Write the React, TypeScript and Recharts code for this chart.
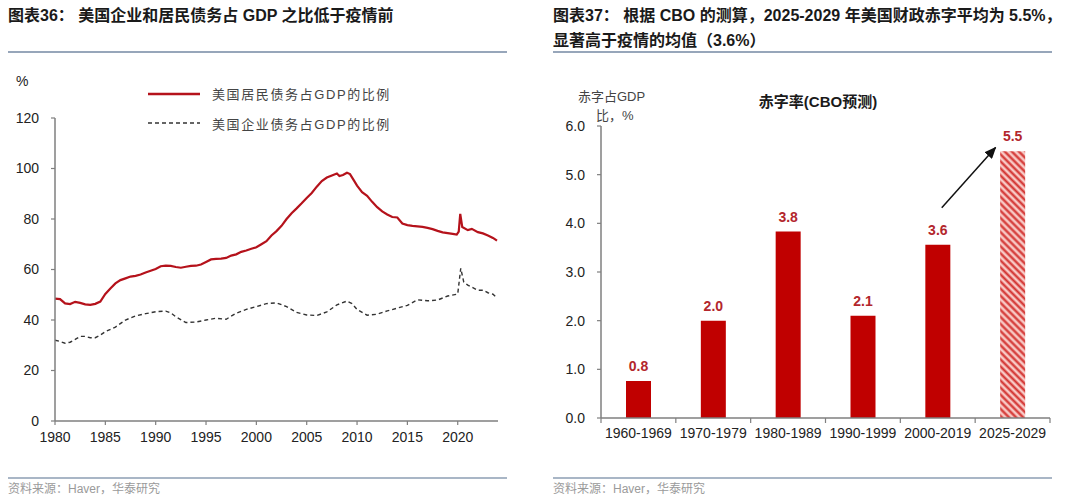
import React from "react";
import {
  Bar,
  BarChart,
  Cell,
  LabelList,
  Legend,
  Line,
  LineChart,
  ReferenceLine,
  XAxis,
  YAxis,
} from "recharts";

// left panel: debt as % of GDP
const householdYears = [
  1980, 1980.5, 1981, 1981.5, 1982, 1982.5, 1983, 1983.5, 1984, 1984.5, 1985, 1985.5, 1986, 1986.5,
  1987, 1987.5, 1988, 1988.5, 1989, 1989.5, 1990, 1990.5, 1991, 1991.5, 1992, 1992.5, 1993, 1993.5,
  1994, 1994.5, 1995, 1995.5, 1996, 1996.5, 1997, 1997.5, 1998, 1998.5, 1999, 1999.5, 2000, 2000.5,
  2001, 2001.5, 2002, 2002.5, 2003, 2003.5, 2004, 2004.5, 2005, 2005.5, 2006, 2006.5, 2007, 2007.5,
  2008, 2008.25, 2008.6, 2009, 2009.3, 2009.7, 2010, 2010.5, 2011, 2011.5, 2012, 2012.5, 2013, 2013.5,
  2014, 2014.5, 2015, 2015.5, 2016, 2016.5, 2017, 2017.5, 2018, 2018.5, 2019, 2019.5, 2019.9, 2020.1,
  2020.25, 2020.45, 2021, 2021.4, 2022, 2022.5, 2023, 2023.5, 2023.9,
];
const householdShare = [
  48.5, 48.3, 46.6, 46.3, 47.2, 46.8, 46.2, 46.0, 46.4, 47.3, 50.3, 52.5, 54.5, 55.8,
  56.5, 57.2, 57.5, 58.0, 58.8, 59.5, 60.2, 61.3, 61.5, 61.4, 61.0, 60.7, 61.1, 61.4,
  61.5, 62.0, 63.0, 64.0, 64.2, 64.3, 64.6, 65.5, 66.0, 67.0, 67.5, 68.2, 68.8, 70.0,
  71.2, 73.5, 75.2, 77.3, 80.0, 82.3, 84.2, 86.2, 88.3, 90.3, 92.8, 95.0, 96.4, 97.2,
  98.0, 97.0, 97.4, 98.3, 97.8, 95.2, 93.2, 90.6, 89.2, 86.8, 84.7, 83.0, 81.8, 80.8,
  80.6, 78.2, 77.6, 77.3, 77.1, 76.9, 76.5, 76.0, 75.3, 74.7, 74.4, 74.1, 73.8, 75.0,
  82.0, 76.8, 75.6, 76.1, 74.8, 74.3, 73.5, 72.5, 71.4,
];

const corporateYears = [
  1980, 1980.5, 1981, 1981.5, 1982, 1982.5, 1983, 1983.5, 1984, 1984.5, 1985, 1986, 1987, 1988,
  1989, 1990, 1991, 1991.5, 1992, 1993, 1994, 1995, 1996, 1997, 1998, 1999, 2000, 2001, 2002,
  2003, 2004, 2005, 2006, 2007, 2008, 2009, 2009.5, 2010, 2011, 2012, 2013, 2014, 2015, 2016,
  2017, 2018, 2019, 2020, 2020.3, 2020.6, 2021, 2021.5, 2022, 2022.5, 2023, 2023.5, 2023.9,
];
const corporateShare = [
  32.0, 31.5, 30.8, 31.2, 32.3, 33.5, 33.5, 33.0, 33.0, 34.0, 35.4, 37.2, 40.0, 41.6,
  42.5, 43.3, 43.5, 42.8, 41.3, 39.0, 39.2, 40.0, 40.7, 40.3, 42.7, 44.2, 45.3, 46.5, 46.8,
  45.3, 43.0, 42.0, 41.8, 43.2, 46.0, 47.5, 46.5, 44.2, 41.9, 42.3, 43.6, 44.7, 45.8, 48.0,
  47.6, 47.9, 49.5, 50.3, 60.5, 55.0, 53.8, 52.8, 51.8, 51.8, 50.8, 50.2, 48.8,
];

const yearTicks = [1980, 1985, 1990, 1995, 2000, 2005, 2010, 2015, 2020];
const shareTicks = [0, 20, 40, 60, 80, 100, 120];

// right panel: average deficit by period
const periods = ["1960-1969", "1970-1979", "1980-1989", "1990-1999", "2000-2019", "2025-2029"];
const deficitAvg = [0.76, 2.0, 3.83, 2.1, 3.56, 5.48];
const deficitTicks = [0, 1, 2, 3, 4, 5, 6];

const SANS = '"Liberation Sans", Arial, "Noto Sans CJK SC", sans-serif';
const AXIS = "#7f7f7f";
const RED = "#c00000";

const household = householdYears.map((year, i) => ({ year, value: householdShare[i] }));
const corporate = corporateYears.map((year, i) => ({ year, value: corporateShare[i] }));
const deficits = periods.map((period, i) => ({ period, value: deficitAvg[i] }));

function DebtLegend({ payload }: any) {
  const items = [...(payload || [])].sort(
    (a: any, b: any) => Number(!!a.payload?.strokeDasharray) - Number(!!b.payload?.strokeDasharray)
  );
  return (
    <div style={{ fontFamily: SANS }}>
      {items.map((entry: any) => {
        const dashed = !!entry.payload?.strokeDasharray;
        return (
          <div key={entry.value} style={{ display: "flex", alignItems: "center", height: 29.5 }}>
            <svg width={52} height={6} style={{ marginRight: 12 }}>
              <line
                x1={0}
                y1={3}
                x2={52}
                y2={3}
                stroke={entry.color}
                strokeWidth={dashed ? 1.3 : 2.4}
                strokeDasharray={dashed ? "4 3" : undefined}
              />
            </svg>
            <span style={{ fontSize: 13, color: "#444", letterSpacing: 1.6 }}>{entry.value}</span>
          </div>
        );
      })}
    </div>
  );
}

const TICK_SIZE = 5;
const TICK_MARGIN = 5;

function PeriodTick({ x, y, payload, index }: any) {
  const half = payload?.offset || 449 / 12;
  const top = y - TICK_SIZE - TICK_MARGIN;
  return (
    <g>
      <line x1={x - half} y1={top} x2={x - half} y2={top + TICK_SIZE} stroke={AXIS} strokeWidth={1.2} />
      {index === periods.length - 1 && (
        <line x1={x + half} y1={top} x2={x + half} y2={top + TICK_SIZE} stroke={AXIS} strokeWidth={1.2} />
      )}
      <text x={x} y={y} dy="0.71em" textAnchor="middle" fontSize={14} fontFamily={SANS} fill="#222">
        {payload.value}
      </text>
    </g>
  );
}

function Arrow({ x1, y1, x2, y2 }: any) {
  return (
    <line
      x1={x1 + 4}
      y1={y1}
      x2={x2 - 17}
      y2={y2}
      stroke="#111"
      strokeWidth={1.5}
      markerEnd="url(#arrowHead)"
    />
  );
}

const text = (extra: React.CSSProperties): React.CSSProperties => ({
  position: "absolute",
  fontFamily: SANS,
  lineHeight: 1,
  whiteSpace: "nowrap",
  ...extra,
});

export default function App() {
  return (
    <div style={{ position: "absolute", left: 0, top: 0, width: 1080, height: 503, background: "#fff", overflow: "hidden" }}>
      {/* headers */}
      <div style={text({ left: 8, top: 8, fontSize: 16, fontWeight: 700, color: "#1a1a1a" })}>
        图表36：&nbsp;美国企业和居民债务占 GDP 之比低于疫情前
      </div>
      <div style={text({ left: 553, top: 3, fontSize: 16, fontWeight: 700, color: "#1a1a1a", lineHeight: "25px" })}>
        图表37：&nbsp;根据 CBO 的测算，2025-2029 年美国财政赤字平均为 5.5%，
        <br />
        显著高于疫情的均值（3.6%）
      </div>
      <div style={{ position: "absolute", left: 8, top: 51, width: 499, height: 1.5, background: "#97a6ba" }} />
      <div style={{ position: "absolute", left: 553, top: 51, width: 499, height: 1.5, background: "#97a6ba" }} />

      {/* left chart */}
      <div style={text({ left: 16, top: 74, fontSize: 14, color: "#222" })}>%</div>
      <div style={{ position: "absolute", left: 0, top: 0 }}>
        <LineChart width={540} height={460} margin={{ top: 118, right: 42, bottom: 9, left: 10 }}>
          <XAxis
            type="number"
            dataKey="year"
            domain={[1980, 2024]}
            ticks={yearTicks}
            allowDataOverflow
            height={30}
            axisLine={{ stroke: AXIS, strokeWidth: 1.5 }}
            tickLine={{ stroke: AXIS, strokeWidth: 1.2 }}
            tickSize={4}
            tickMargin={7}
            tick={{ fill: "#222", fontSize: 14, fontFamily: SANS }}
          />
          <YAxis
            type="number"
            domain={[0, 120]}
            ticks={shareTicks}
            width={45}
            axisLine={{ stroke: AXIS, strokeWidth: 1.5 }}
            tickLine={{ stroke: AXIS, strokeWidth: 1.2 }}
            tickSize={4}
            tickMargin={12}
            tick={{ fill: "#222", fontSize: 14, fontFamily: SANS }}
          />
          <Legend
            layout="vertical"
            align="center"
            verticalAlign="middle"
            content={<DebtLegend />}
            wrapperStyle={{ top: 79, left: 148, width: "auto", height: "auto" }}
          />
          <Line
            data={household}
            dataKey="value"
            name="美国居民债务占GDP的比例"
            stroke="#b5121b"
            strokeWidth={2.2}
            dot={false}
            isAnimationActive={false}
          />
          <Line
            data={corporate}
            dataKey="value"
            name="美国企业债务占GDP的比例"
            stroke="#333"
            strokeWidth={1.4}
            strokeDasharray="4 3"
            dot={false}
            isAnimationActive={false}
          />
        </LineChart>
      </div>

      {/* right chart */}
      <div style={text({ left: 818, top: 94, fontSize: 15, fontWeight: 700, color: "#1a1a1a", transform: "translateX(-50%)" })}>
        赤字率(CBO预测)
      </div>
      <div style={text({ left: 578, top: 90, fontSize: 13, color: "#444" })}>赤字占GDP</div>
      <div style={text({ left: 596, top: 109, fontSize: 13, color: "#444" })}>比，%</div>
      <div style={{ position: "absolute", left: 540, top: 0 }}>
        <BarChart
          width={540}
          height={460}
          data={deficits}
          barSize={25}
          margin={{ top: 126, right: 30, bottom: 12, left: 21 }}
        >
          <defs>
            <pattern id="hatch" patternUnits="userSpaceOnUse" width={5} height={5} patternTransform="rotate(-45)">
              <rect width={5} height={5} fill="#f8c9c5" />
              <line x1={1.5} y1={0} x2={1.5} y2={5} stroke="#d2302e" strokeWidth={2.2} />
            </pattern>
            <marker
              id="arrowHead"
              markerWidth={12}
              markerHeight={10}
              refX={11}
              refY={5}
              orient="auto"
              markerUnits="userSpaceOnUse"
            >
              <path d="M0,0 L12,5 L0,10 z" fill="#111" />
            </marker>
          </defs>
          <XAxis
            dataKey="period"
            type="category"
            height={30}
            axisLine={{ stroke: AXIS, strokeWidth: 1.5 }}
            tickLine={false}
            tickSize={TICK_SIZE}
            tickMargin={TICK_MARGIN}
            interval={0}
            tick={<PeriodTick />}
          />
          <YAxis
            type="number"
            domain={[0, 6]}
            ticks={deficitTicks}
            width={40}
            axisLine={{ stroke: AXIS, strokeWidth: 1.5 }}
            tickLine={{ stroke: AXIS, strokeWidth: 1.2 }}
            tickSize={4}
            tickMargin={12}
            tickFormatter={(v: number) => v.toFixed(1)}
            tick={{ fill: "#222", fontSize: 14, fontFamily: SANS }}
          />
          <Bar dataKey="value" isAnimationActive={false}>
            {deficits.map((d, i) => (
              <Cell key={d.period} fill={i === deficits.length - 1 ? "url(#hatch)" : RED} />
            ))}
            <LabelList
              dataKey="value"
              position="top"
              offset={10}
              formatter={(v: any) => Number(v).toFixed(1)}
              fill="#b3262c"
              fontSize={14}
              fontWeight={700}
              fontFamily={SANS}
            />
          </Bar>
          <ReferenceLine
            segment={[
              { x: "2000-2019", y: 4.32 },
              { x: "2025-2029", y: 5.56 },
            ]}
            ifOverflow="visible"
            shape={<Arrow />}
          />
        </BarChart>
      </div>

      {/* footers */}
      <div style={{ position: "absolute", left: 8, top: 477, width: 499, height: 1.5, background: "#a9b6c6" }} />
      <div style={{ position: "absolute", left: 553, top: 477, width: 499, height: 1.5, background: "#a9b6c6" }} />
      <div style={text({ left: 8, top: 483, fontSize: 12, color: "#9a9a9a" })}>资料来源：Haver，华泰研究</div>
      <div style={text({ left: 553, top: 483, fontSize: 12, color: "#9a9a9a" })}>资料来源：Haver，华泰研究</div>
    </div>
  );
}
